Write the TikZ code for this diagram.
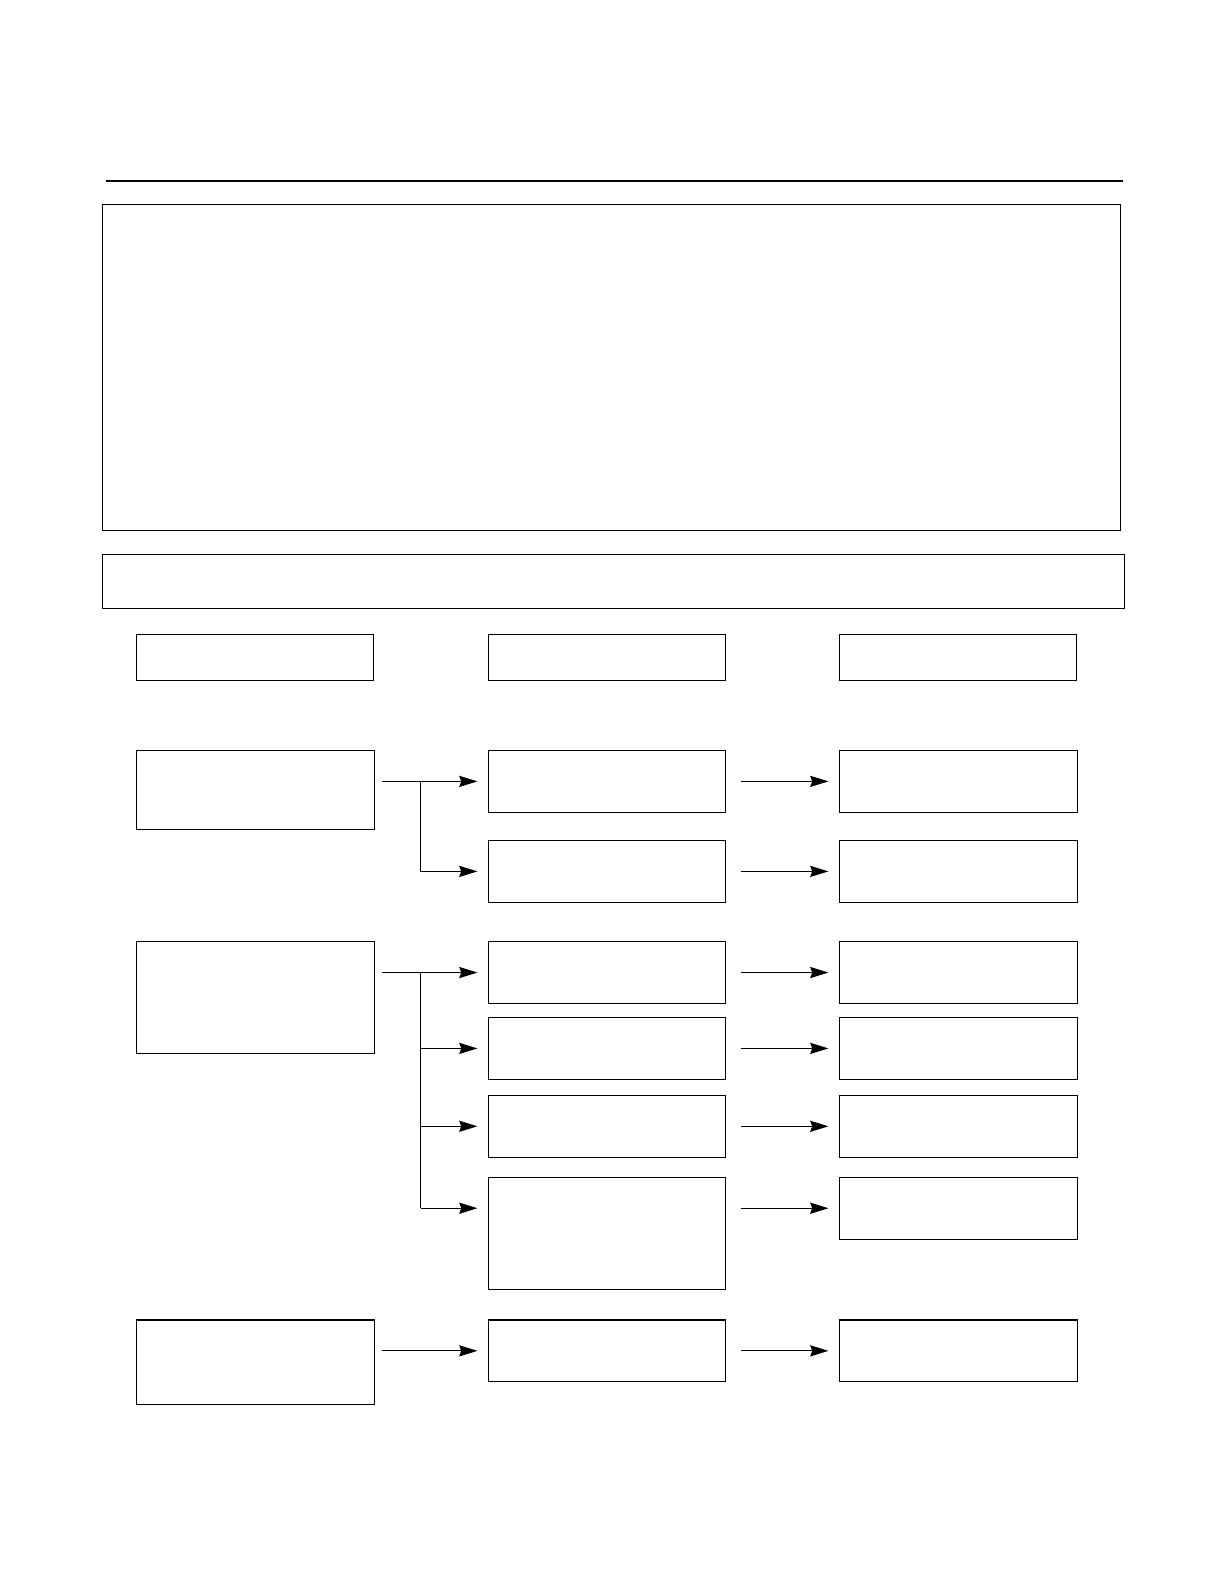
\documentclass[tikz,border=0pt]{standalone}
\usetikzlibrary{arrows.meta,calc}
\begin{document}
\begin{tikzpicture}[x=1pt,y=-1pt,
  box/.style={draw,line width=1pt,inner sep=0pt,outer sep=0pt,anchor=north west},
  conn/.style={line width=1pt,-{Stealth[length=18pt,width=11pt,inset=2pt]}},
  plain/.style={line width=1pt}]
\fill[white] (0,0) rectangle (1210,1568);
% top rule
\draw[line width=2pt] (105,179) -- (1110,179);
% big boxes
\node[box,minimum width=1007pt,minimum height=322pt] (big) at (101,202) {};
\node[box,minimum width=1011pt,minimum height=54pt] (banner) at (101,548) {};
% header boxes
\node[box,minimum width=234pt,minimum height=46pt] (h1) at (135,627) {};
\node[box,minimum width=234pt,minimum height=46pt] (h2) at (483,627) {};
\node[box,minimum width=234pt,minimum height=46pt] (h3) at (830,627) {};
% left column
\node[box,minimum width=235pt,minimum height=78pt] (l1) at (135,742) {};
\node[box,minimum width=235pt,minimum height=111pt] (l2) at (135,931) {};
\node[box,minimum width=235pt,minimum height=84pt] (l3) at (135,1305) {};
% middle column
\node[box,minimum width=234pt,minimum height=61pt] (m1) at (483,742) {};
\node[box,minimum width=234pt,minimum height=61pt] (m2) at (483,831) {};
\node[box,minimum width=234pt,minimum height=61pt] (m3) at (483,931) {};
\node[box,minimum width=234pt,minimum height=61pt] (m4) at (483,1006) {};
\node[box,minimum width=234pt,minimum height=61pt] (m5) at (483,1083) {};
\node[box,minimum width=234pt,minimum height=111pt] (m6) at (483,1164) {};
\node[box,minimum width=234pt,minimum height=61pt] (m7) at (483,1305) {};
% right column
\node[box,minimum width=235pt,minimum height=61pt] (r1) at (830,742) {};
\node[box,minimum width=235pt,minimum height=61pt] (r2) at (830,831) {};
\node[box,minimum width=235pt,minimum height=61pt] (r3) at (830,931) {};
\node[box,minimum width=235pt,minimum height=61pt] (r4) at (830,1006) {};
\node[box,minimum width=235pt,minimum height=61pt] (r5) at (830,1083) {};
\node[box,minimum width=235pt,minimum height=61pt] (r6) at (830,1164) {};
\node[box,minimum width=235pt,minimum height=61pt] (r7) at (830,1305) {};
% junction coordinates
\coordinate (j1) at (416,772.5);
\coordinate (j2) at (416,961.5);
% left -> middle, group 1
\draw[conn,shorten <=8pt,shorten >=11pt] (l1.east |- m1.west) -- (m1.west);
\draw[conn,shorten >=11pt] (j1) |- (m2.west);
% left -> middle, group 2
\draw[conn,shorten <=8pt,shorten >=11pt] (l2.east |- m3.west) -- (m3.west);
\draw[plain] (j2) -- (j2 |- r6.west);
\draw[conn,shorten >=11pt] (j2 |- m4.west) -- (m4.west);
\draw[conn,shorten >=11pt] (j2 |- m5.west) -- (m5.west);
\draw[conn,shorten >=11pt] (j2 |- r6.west) -- (m6.west |- r6.west);
% left -> middle, group 3
\draw[conn,shorten <=8pt,shorten >=11pt] (l3.east |- m7.west) -- (m7.west);
% middle -> right
\foreach \m/\r in {m1/r1,m2/r2,m3/r3,m4/r4,m5/r5,m6/r6,m7/r7}
  \draw[conn,shorten <=16pt,shorten >=11pt] (\m.east |- \r.west) -- (\r.west);
\pgfresetboundingbox
\path[use as bounding box] (0,0) rectangle (1210,1568);
\end{tikzpicture}
\end{document}
